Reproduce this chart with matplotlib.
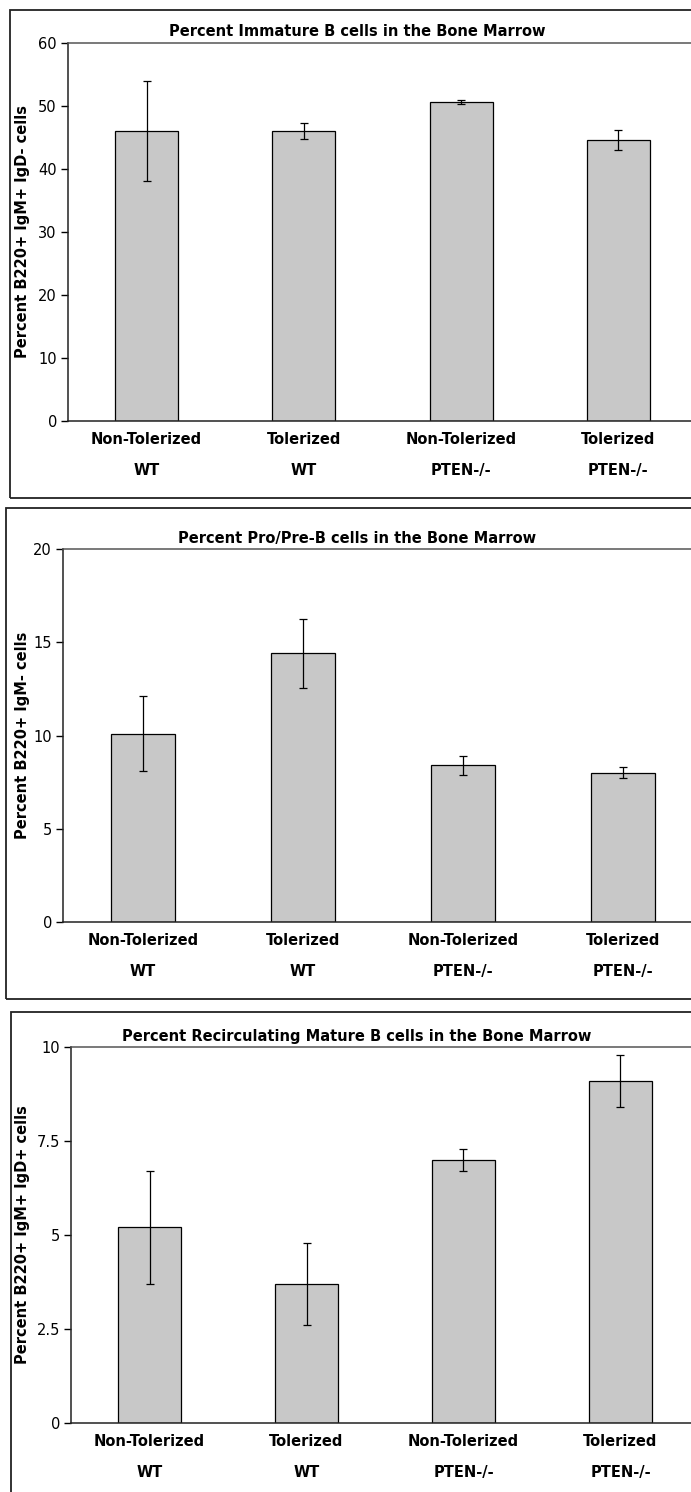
"""
Bone marrow B cell subsets: WT vs PTEN-/- mice, tolerized or not.
Three stacked bar charts with SEM error bars.
"""

import matplotlib
matplotlib.use("Agg")
import matplotlib.pyplot as plt
from matplotlib.patches import Rectangle

# categories
treatments = ["Non-Tolerized", "Tolerized", "Non-Tolerized", "Tolerized"]
genotypes = ["WT", "WT", "PTEN-/-", "PTEN-/-"]

# immature B cells (B220+ IgM+ IgD-)
immature_mean = [46.0, 46.0, 50.6, 44.6]
immature_err = [7.9, 1.3, 0.3, 1.6]
immature_ticks = [0, 10, 20, 30, 40, 50, 60]
immature_ticklabels = ["0", "10", "20", "30", "40", "50", "60"]

# pro/pre-B cells (B220+ IgM-)
propre_mean = [10.1, 14.4, 8.4, 8.0]
propre_err = [2.0, 1.85, 0.5, 0.3]
propre_ticks = [0, 5, 10, 15, 20]
propre_ticklabels = ["0", "5", "10", "15", "20"]

# recirculating mature B cells (B220+ IgM+ IgD+)
recirc_mean = [5.2, 3.7, 7.0, 9.1]
recirc_err = [1.5, 1.1, 0.3, 0.7]
recirc_ticks = [0, 2.5, 5, 7.5, 10]
recirc_ticklabels = ["0", "2.5", "5", "7.5", "10"]

W, H = 691, 1492
DPI = 100
BAR_COLOR = "#c8c8c8"


def fx(px):
    return px / W


def fy(px):
    # pixel rows are counted from the top
    return 1 - px / H


def draw_panel(fig, frame, axbox, title, ylabel, means, errs, ticks, ticklabels):
    """frame/axbox are (left, top, right, bottom) in pixels."""
    fl, ft, fr, fb = frame
    fig.patches.append(Rectangle((fx(fl), fy(fb)), fx(fr - fl), fy(ft) - fy(fb),
                                 transform=fig.transFigure, fill=False,
                                 edgecolor="#222222", linewidth=1.3, zorder=0))

    al, at, ar, ab = axbox
    ax = fig.add_axes([fx(al), fy(ab), fx(ar - al), fy(at) - fy(ab)])
    x = range(len(means))
    ax.bar(x, means, width=0.4, color=BAR_COLOR, edgecolor="black", linewidth=0.9,
           yerr=errs, capsize=3.2,
           error_kw=dict(ecolor="black", elinewidth=0.9, capthick=0.9))
    ax.set_xlim(-0.5, len(means) - 0.5)
    ax.set_ylim(ticks[0], ticks[-1])
    ax.set_yticks(ticks)
    ax.set_yticklabels(ticklabels, fontsize=10.5)
    ax.set_xticks(list(x))
    ax.set_xticklabels([f"{t}\n{g}" for t, g in zip(treatments, genotypes)],
                       fontsize=10.5, fontweight="bold", linespacing=2.35)
    ax.tick_params(axis="x", length=0, pad=8)
    ax.tick_params(axis="y", length=5, width=1, pad=3, direction="out")
    for side in ("left", "bottom"):
        ax.spines[side].set_color("#222222")
        ax.spines[side].set_linewidth(1.1)
    ax.spines["top"].set_color("#555555")
    ax.spines["top"].set_linewidth(1.1)
    ax.spines["right"].set_visible(False)

    fig.text(fx(357), fy(at - 11), title, ha="center", va="center",
             fontsize=10.5, fontweight="bold")
    fig.text(fx(23), fy((at + ab) / 2), ylabel, rotation=90, ha="center",
             va="center", fontsize=10.5, fontweight="bold")
    return ax


fig = plt.figure(figsize=(W / DPI, H / DPI), dpi=DPI)
fig.patch.set_facecolor("white")

draw_panel(fig, (10, 10, 720, 498), (68, 43, 697, 421),
           "Percent Immature B cells in the Bone Marrow",
           "Percent B220+ IgM+ IgD- cells",
           immature_mean, immature_err, immature_ticks, immature_ticklabels)

draw_panel(fig, (6, 508, 720, 999), (63, 549, 703, 922),
           "Percent Pro/Pre-B cells in the Bone Marrow",
           "Percent B220+ IgM- cells",
           propre_mean, propre_err, propre_ticks, propre_ticklabels)

draw_panel(fig, (11, 1012, 720, 1510), (71, 1047, 699, 1423),
           "Percent Recirculating Mature B cells in the Bone Marrow",
           "Percent B220+ IgM+ IgD+ cells",
           recirc_mean, recirc_err, recirc_ticks, recirc_ticklabels)

fig.savefig("out.png", dpi=DPI)
